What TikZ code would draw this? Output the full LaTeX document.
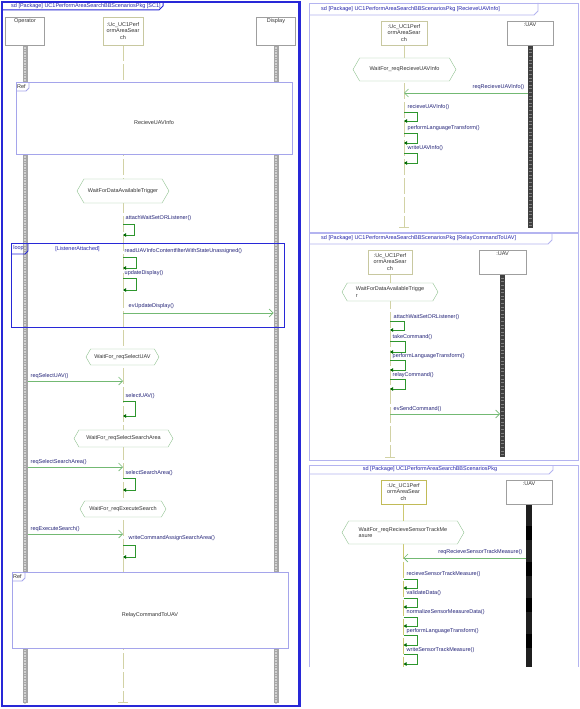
\documentclass[tikz,border=0pt]{standalone}
\usepackage{fontspec}
\setmainfont{Liberation Sans}
\usepackage{tikz}
\usetikzlibrary{arrows.meta,shapes.symbols}
\pgfdeclarelayer{bglayer}
\pgfdeclarelayer{edgelayer}
\pgfdeclarelayer{nodelayer}
\pgfsetlayers{bglayer,edgelayer,nodelayer,main}
\definecolor{frameblue}{RGB}{40,40,215}
\definecolor{panelblue}{RGB}{180,180,240}
\definecolor{refblue}{RGB}{165,165,235}
\definecolor{tabtext}{RGB}{35,35,170}
\definecolor{msgtext}{RGB}{35,35,120}
\definecolor{msggreen}{RGB}{115,185,115}
\definecolor{loopgreen}{RGB}{45,150,45}
\definecolor{tipgreen}{RGB}{0,105,0}
\definecolor{stategreen}{RGB}{145,195,145}
\definecolor{ucolive}{RGB}{200,200,160}
\definecolor{ucline}{RGB}{210,210,165}
\tikzstyle{outerframe}=[draw=frameblue, line width=2.4pt]
\tikzstyle{outertab}=[draw=frameblue, line width=1pt]
\tikzstyle{panelframe}=[draw=panelblue, line width=0.9pt]
\tikzstyle{tabtxt}=[inner sep=0pt, text=tabtext]
\tikzstyle{lifebox}=[rectangle, draw=gray!75, fill=white, inner sep=0pt, minimum height=24pt, minimum width=46pt]
\tikzstyle{ucbox}=[rectangle, draw=ucolive, fill=white, inner sep=0pt, align=center, minimum height=24pt, minimum width=45pt, text=black!80]
\tikzstyle{state}=[signal, signal to=west and east, signal pointer angle=120, draw=stategreen, fill=white, inner sep=1pt, align=left, text=black!80]
\tikzstyle{refbox}=[rectangle, draw=refblue, fill=white, line width=0.8pt]
\tikzstyle{reftag}=[draw=refblue, line width=0.8pt]
\tikzstyle{loopframe}=[draw=frameblue, line width=0.9pt]
\tikzstyle{msg}=[inner sep=0.5pt, text=msgtext]
\tikzstyle{asyncmsg}=[draw=msggreen, line width=0.6pt, -{Straight Barb[length=4pt,width=8pt]}]
\tikzstyle{selfmsg}=[draw=loopgreen, line width=0.7pt, -{Triangle[length=3pt,width=3.5pt,color=tipgreen]}]
\tikzstyle{uclife}=[draw=ucline, line width=0.8pt, dash pattern=on 16pt off 3pt, -{Bar[width=10pt]}]
\tikzstyle{actorlife}=[draw=gray!70, line width=5pt, postaction={draw=gray!35, line width=2.6pt, dash pattern=on 0.8pt off 0.8pt}]
\tikzstyle{uavlife}=[draw=black!75, line width=5pt, postaction={draw=black!50, line width=3pt, dash pattern=on 0.6pt off 3pt}]
\tikzstyle{uavlifedark}=[draw=black, line width=6pt, postaction={draw=black!88, line width=6pt, dash pattern=on 22pt off 14pt}]

\begin{document}
\begin{tikzpicture}[x=1pt, y=-1pt, font=\fontsize{5.5}{6.5}\selectfont]
	\begin{pgfonlayer}{bglayer}
		\useasboundingbox [fill=white] (0,0) rectangle (580,709);
	\end{pgfonlayer}
	\begin{pgfonlayer}{nodelayer}
		% SC1
		\node [style=lifebox, minimum width=39pt, minimum height=28pt, label={[anchor=north, inner sep=2pt, text=black!80]north:Operator}] (op) at (25,31) {};
		\node [style=ucbox, minimum width=40pt, minimum height=28pt] (uc) at (123,31) {:Uc\_UC1Perf\\ormAreaSear\\ch};
		\node [style=lifebox, minimum width=39pt, minimum height=28pt, label={[anchor=north, inner sep=2pt, text=black!80]north:Display}] (disp) at (276,31) {};
		\node [style=refbox, minimum width=276pt, minimum height=72pt, label={[yshift=-5pt, text=black!80]center:RecieveUAVInfo}] (ref1) at (154,118) {};
		\node [style=state, minimum width=92pt, minimum height=24pt] (w1) at (123,191) {WaitForDataAvailableTrigger};
		\node [style=state, minimum width=73pt, minimum height=16pt] (w2) at (122.5,357) {WaitFor\_reqSelectUAV};
		\node [style=state, minimum width=99pt, minimum height=17pt] (w3) at (123.5,438.5) {WaitFor\_reqSelectSearchArea};
		\node [style=state, minimum width=86pt, minimum height=16pt] (w4) at (123,509) {WaitFor\_reqExecuteSearch};
		\node [style=refbox, minimum width=276pt, minimum height=76pt, label={[yshift=-5pt, text=black!80]center:RelayCommandToUAV}] (ref2) at (150,610) {};
		% RecieveUAVInfo
		\node [style=ucbox, minimum width=46pt] (uca) at (404,33) {:Uc\_UC1Perf\\ormAreaSear\\ch};
		\node [style=lifebox, label={[anchor=north, inner sep=2pt, text=black!80]north::UAV}] (uava) at (530,33) {};
		\node [style=state, minimum width=103pt, minimum height=23pt] (wa) at (404.5,69.5) {WaitFor\_reqRecieveUAVInfo};
		% RelayCommandToUAV
		\node [style=ucbox, minimum width=44pt] (ucb) at (390,262) {:Uc\_UC1Perf\\ormAreaSear\\ch};
		\node [style=lifebox, minimum width=47pt, label={[anchor=north, inner sep=2pt, text=black!80]north::UAV}] (uavb) at (502.5,262) {};
		\node [style=state, minimum width=96pt, minimum height=18pt] (wb) at (390,292) {WaitForDataAvailableTrigge\\r};
		% sensor track
		\node [style=ucbox, draw=olive!55, line width=1pt] (ucc) at (403.5,492) {:Uc\_UC1Perf\\ormAreaSear\\ch};
		\node [style=lifebox, label={[anchor=north, inner sep=2pt, text=black!80]north::UAV}] (uavc) at (529,492) {};
		\node [style=state, minimum width=122pt, minimum height=23pt] (wc) at (403,532.5) {WaitFor\_reqRecieveSensorTrackMe\\asure};
	\end{pgfonlayer}
	\begin{pgfonlayer}{edgelayer}
		\coordinate (opend) at (25,703);
		\coordinate (ucend) at (123,703);
		\coordinate (dispend) at (276,703);
		\coordinate (ucaend) at (404,228);
		\coordinate (uavaend) at (530,228);
		\coordinate (ucbend) at (390,458);
		\coordinate (uavbend) at (502.5,457);
		\coordinate (uccend) at (403.5,667);
		\coordinate (uavcend) at (529,667);
		\draw [style=actorlife] (op.south) to (opend);
		\draw [style=actorlife] (disp.south) to (dispend);
		\draw [style=uclife] (uc.south) to (ucend);
		\draw [style=uclife] (uca.south) to (ucaend);
		\draw [style=uavlife] (uava.south) to (uavaend);
		\draw [style=uclife] (ucb.south) to (ucbend);
		\draw [style=uavlife] (uavb.south) to (uavbend);
		\draw [style=uclife, draw=olive!45, -] (ucc.south) to (uccend);
		\draw [style=uavlifedark] (uavc.south) to (uavcend);
	\end{pgfonlayer}
	% frames and tabs
	\draw [style=outerframe] (2,2) rectangle (299.5,706);
	\draw [style=outertab] (2,10) -- (159,10) -- (163,6) -- (163,2);
	\node [style=tabtxt, anchor=west] (tab0) at (11,6) {sd [Package] UC1PerformAreaSearchBBScenariosPkg [SC1]};
	\draw [style=panelframe] (309,3) rectangle (578,232);
	\draw [style=panelframe] (309,15) -- (534,15) -- (538,11) -- (538,3);
	\node [style=tabtxt, anchor=west] (taba) at (321,9) {sd [Package] UC1PerformAreaSearchBBScenariosPkg [RecieveUAVInfo]};
	\draw [style=panelframe] (309,233) rectangle (578,460);
	\draw [style=panelframe] (309,244) -- (548,244) -- (552,240) -- (552,233);
	\node [style=tabtxt, anchor=west] (tabb) at (321,238.5) {sd [Package] UC1PerformAreaSearchBBScenariosPkg [RelayCommandToUAV]};
	\draw [style=panelframe] (309,667) -- (309,465) -- (578,465) -- (578,667);
	\draw [style=panelframe] (309,474) -- (549,474) -- (553,470) -- (553,465);
	\node [style=tabtxt] (tabc) at (430,469.5) {sd [Package] UC1PerformAreaSearchBBScenariosPkg};
	% ref and loop tags
	\draw [style=reftag] (16,91) -- (26,91) -- (29,88) -- (29,82);
	\node [inner sep=0pt, text=black!80] (rt1) at (21.5,86.5) {Ref};
	\draw [style=reftag] (12,581) -- (22,581) -- (25,578) -- (25,572);
	\node [inner sep=0pt, text=black!80] (rt2) at (17.5,576.5) {Ref};
	\draw [style=loopframe] (11,243) rectangle (284,327);
	\draw [style=loopframe] (11,254) -- (25,254) -- (28,251) -- (28,243);
	\node [inner sep=0pt, text=tabtext] (lp) at (18.5,248.5) {loop};
	\node [inner sep=0pt, text=tabtext] (guard) at (77.5,249) {[ListenerAttached]};
	% SC1 messages
	\node [style=msg, anchor=west] (m1) at (125,218) {attachWaitSetORListener()};
	\coordinate (s1a) at (123,224);
	\coordinate (s1b) at (123,235);
	\draw [style=selfmsg] (s1a) -- ++(11,0) |- (s1b);
	\node [style=msg, anchor=west] (m2) at (124,251) {readUAVInfoContentfilterWithStateUnassigned()};
	\coordinate (s2a) at (123,257);
	\coordinate (s2b) at (123,268);
	\draw [style=selfmsg] (s2a) -- ++(13,0) |- (s2b);
	\node [style=msg, anchor=west] (m3) at (124,273) {updateDisplay()};
	\coordinate (s3a) at (123,278);
	\coordinate (s3b) at (123,290);
	\draw [style=selfmsg] (s3a) -- ++(13,0) |- (s3b);
	\node [style=msg, anchor=west] (m4) at (128,306) {evUpdateDisplay()};
	\coordinate (a1a) at (123,313);
	\coordinate (a1b) at (273.5,313);
	\draw [style=asyncmsg] (a1a) to (a1b);
	\node [style=msg, anchor=west] (m5) at (30,376) {reqSelectUAV()};
	\coordinate (a2a) at (27.5,381);
	\coordinate (a2b) at (123,381);
	\draw [style=asyncmsg] (a2a) to (a2b);
	\node [style=msg, anchor=west] (m6) at (125,396) {selectUAV()};
	\coordinate (s4a) at (123,401);
	\coordinate (s4b) at (123,416);
	\draw [style=selfmsg] (s4a) -- ++(12,0) |- (s4b);
	\node [style=msg, anchor=west] (m7) at (30,462) {reqSelectSearchArea()};
	\coordinate (a3a) at (27.5,467);
	\coordinate (a3b) at (123,467);
	\draw [style=asyncmsg] (a3a) to (a3b);
	\node [style=msg, anchor=west] (m8) at (125,473) {selectSearchArea()};
	\coordinate (s5a) at (123,478);
	\coordinate (s5b) at (123,490);
	\draw [style=selfmsg] (s5a) -- ++(12,0) |- (s5b);
	\node [style=msg, anchor=west] (m9) at (30,529) {reqExecuteSearch()};
	\coordinate (a4a) at (27.5,534);
	\coordinate (a4b) at (123,534);
	\draw [style=asyncmsg] (a4a) to (a4b);
	\node [style=msg, anchor=west] (m10) at (128,538) {writeCommandAssignSearchArea()};
	\coordinate (s6a) at (123,545);
	\coordinate (s6b) at (123,557);
	\draw [style=selfmsg] (s6a) -- ++(12,0) |- (s6b);
	% RecieveUAVInfo messages
	\node [style=msg, anchor=east] (ma1) at (525,87) {reqRecieveUAVInfo()};
	\coordinate (aa1a) at (527.5,93);
	\coordinate (aa1b) at (404,93);
	\draw [style=asyncmsg] (aa1a) to (aa1b);
	\node [style=msg, anchor=west] (ma2) at (407,107) {recieveUAVInfo()};
	\coordinate (sa1a) at (404,112);
	\coordinate (sa1b) at (404,121);
	\draw [style=selfmsg] (sa1a) -- ++(13,0) |- (sa1b);
	\node [style=msg, anchor=west] (ma3) at (407,128) {performLanguageTransform()};
	\coordinate (sa2a) at (404,133);
	\coordinate (sa2b) at (404,143);
	\draw [style=selfmsg] (sa2a) -- ++(13,0) |- (sa2b);
	\node [style=msg, anchor=west] (ma4) at (407,148) {writeUAVInfo()};
	\coordinate (sa3a) at (404,153);
	\coordinate (sa3b) at (404,163);
	\draw [style=selfmsg] (sa3a) -- ++(13,0) |- (sa3b);
	% RelayCommandToUAV messages
	\node [style=msg, anchor=west] (mb1) at (393,317) {attachWaitSetORListener()};
	\coordinate (sb1a) at (390,321);
	\coordinate (sb1b) at (390,330);
	\draw [style=selfmsg] (sb1a) -- ++(14,0) |- (sb1b);
	\node [style=msg, anchor=west] (mb2) at (392,337) {takeCommand()};
	\coordinate (sb2a) at (390,341);
	\coordinate (sb2b) at (390,352);
	\draw [style=selfmsg] (sb2a) -- ++(15,0) |- (sb2b);
	\node [style=msg, anchor=west] (mb3) at (392,356) {performLanguageTransform()};
	\coordinate (sb3a) at (390,360);
	\coordinate (sb3b) at (390,370);
	\draw [style=selfmsg] (sb3a) -- ++(15,0) |- (sb3b);
	\node [style=msg, anchor=west] (mb4) at (392,375) {relayCommand()};
	\coordinate (sb4a) at (390,379);
	\coordinate (sb4b) at (390,389);
	\draw [style=selfmsg] (sb4a) -- ++(15,0) |- (sb4b);
	\node [style=msg, anchor=west] (mb5) at (393,409) {evSendCommand()};
	\coordinate (ab1a) at (390,414);
	\coordinate (ab1b) at (500,414);
	\draw [style=asyncmsg] (ab1a) to (ab1b);
	% sensor track messages
	\node [style=msg, anchor=east] (mc1) at (523,552) {reqRecieveSensorTrackMeasure()};
	\coordinate (ac1a) at (526,558);
	\coordinate (ac1b) at (403.5,558);
	\draw [style=asyncmsg] (ac1a) to (ac1b);
	\node [style=msg, anchor=west] (mc2) at (406,574) {recieveSensorTrackMeasure()};
	\coordinate (sc1a) at (403.5,579);
	\coordinate (sc1b) at (403.5,588);
	\draw [style=selfmsg] (sc1a) -- ++(14,0) |- (sc1b);
	\node [style=msg, anchor=west] (mc3) at (406,593) {validateData()};
	\coordinate (sc2a) at (403.5,598);
	\coordinate (sc2b) at (403.5,607);
	\draw [style=selfmsg] (sc2a) -- ++(14,0) |- (sc2b);
	\node [style=msg, anchor=west] (mc4) at (406,612) {normalizeSensorMeasureData()};
	\coordinate (sc3a) at (403.5,617);
	\coordinate (sc3b) at (403.5,626);
	\draw [style=selfmsg] (sc3a) -- ++(14,0) |- (sc3b);
	\node [style=msg, anchor=west] (mc5) at (406,631) {performLanguageTransform()};
	\coordinate (sc4a) at (403.5,635);
	\coordinate (sc4b) at (403.5,645);
	\draw [style=selfmsg] (sc4a) -- ++(14,0) |- (sc4b);
	\node [style=msg, anchor=west] (mc6) at (406,650) {writeSensorTrackMeasure()};
	\coordinate (sc5a) at (403.5,654);
	\coordinate (sc5b) at (403.5,664);
	\draw [style=selfmsg] (sc5a) -- ++(14,0) |- (sc5b);
\end{tikzpicture}
\end{document}
